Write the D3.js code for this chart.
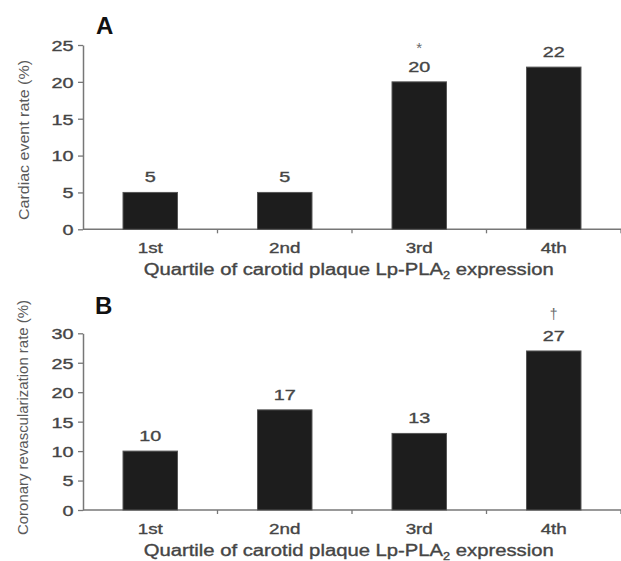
<!DOCTYPE html>
<html><head><meta charset="utf-8">
<script src="https://cdn.jsdelivr.net/npm/d3@7"></script>
<style>
body{margin:0;background:#fff}
svg text{font-family:"Liberation Sans",Arial,Helvetica,sans-serif}
</style>
</head><body>
<svg id="chart" width="621" height="561"></svg>
<script>
// ---- data ----
const categories = ["1st", "2nd", "3rd", "4th"];
const cardiacEventRate = [5, 5, 20, 22];
const cardiacMarks = ["", "", "*", ""];
const revascRate = [10, 17, 13, 27];
const revascMarks = ["", "", "", "†"];
const yTicksA = [0, 5, 10, 15, 20, 25];
const yTicksB = [0, 5, 10, 15, 20, 25, 30];
const panelLabels = ["A", "B"];
const yTitles = ["Cardiac event rate (%)", "Coronary revascularization rate (%)"];
const xTitleMain = "Quartile of carotid plaque Lp-PLA";
const xTitleSub = "2";
const xTitleEnd = " expression";

// ---- style / layout ----
const TEXT = "#454545", AXIS = "#777";
const svg = d3.select("#chart");
const SX = 1.32; // horizontal stretch of the reference lettering

function stretch(sel, f) {
  sel.each(function () {
    const n = this.getComputedTextLength();
    d3.select(this).attr("textLength", n * f).attr("lengthAdjust", "spacingAndGlyphs");
  });
}
function heavy(sel, c) {
  sel.attr("stroke", c || TEXT).attr("stroke-width", 0.35);
}

const panels = [
  { values: cardiacEventRate, marks: cardiacMarks, ticks: yTicksA, yRange: [229.3, 45], label: panelLabels[0],
    labelPos: [96, 34], yTitle: yTitles[0], yTitleLen: 160, yTitleX: 28.5, yTitleY: 140 },
  { values: revascRate, marks: revascMarks, ticks: yTicksB, yRange: [510, 333.3], label: panelLabels[1],
    labelPos: [95, 313.5], yTitle: yTitles[1], yTitleLen: 235, yTitleX: 28, yTitleY: 417.5 }
];

const x = d3.scaleBand().domain(categories).range([83, 621]).padding(0);
const barFrac = 0.405;
const markOffset = { "*": 19, "†": 22 };
const markSize = { "*": "15px", "†": "14px" };

panels.forEach(p => {
  const y = d3.scaleLinear().domain([0, d3.max(p.ticks)]).range(p.yRange);
  const g = svg.append("g");

  // y axis
  const ya = g.append("g").attr("transform", "translate(83,0)")
    .call(d3.axisLeft(y).tickValues(p.ticks).tickSize(5).tickSizeOuter(0).tickPadding(4.5));
  ya.select(".domain").attr("stroke", AXIS).attr("stroke-width", 1.5);
  ya.selectAll(".tick line").attr("stroke", AXIS).attr("stroke-width", 1.3);
  const yt = ya.selectAll(".tick text").attr("fill", TEXT).style("font-size", "15px").attr("dy", "0.36em");
  heavy(yt);
  stretch(yt, SX);

  // x axis line + boundary ticks
  const y0 = y(0);
  g.append("line").attr("x1", 83).attr("x2", 621).attr("y1", y0).attr("y2", y0)
    .attr("stroke", AXIS).attr("stroke-width", 1.5);
  g.selectAll(".bt").data(categories).join("line")
    .attr("x1", d => x(d) + x.bandwidth()).attr("x2", d => x(d) + x.bandwidth())
    .attr("y1", y0).attr("y2", y0 + 4).attr("stroke", AXIS).attr("stroke-width", 1.3);

  // category labels
  const cl = g.selectAll(".cl").data(categories).join("text")
    .attr("x", d => x(d) + x.bandwidth() / 2).attr("y", y0 + 24)
    .attr("text-anchor", "middle").attr("fill", TEXT).style("font-size", "15px").text(d => d);
  heavy(cl);
  stretch(cl, SX * 0.95);

  // bars
  const bw = x.bandwidth() * barFrac;
  g.selectAll(".bar").data(p.values).join("rect")
    .attr("x", (d, i) => x(categories[i]) + (x.bandwidth() - bw) / 2)
    .attr("y", d => y(d)).attr("width", bw).attr("height", d => y0 - y(d))
    .attr("fill", "#1d1d1d").attr("stroke", "#555").attr("stroke-width", 1);

  // value labels
  const vl = g.selectAll(".vl").data(p.values).join("text")
    .attr("x", (d, i) => x(categories[i]) + x.bandwidth() / 2).attr("y", d => y(d) - 10)
    .attr("text-anchor", "middle").attr("fill", TEXT).style("font-size", "15px").text(d => d);
  heavy(vl);
  stretch(vl, SX);

  // significance marks
  g.selectAll(".mk").data(p.marks.map((m, i) => ({ m, v: p.values[i], c: categories[i] })).filter(d => d.m))
    .join("text")
    .attr("x", d => x(d.c) + x.bandwidth() / 2).attr("y", d => y(d.v) - 10 - markOffset[d.m])
    .attr("text-anchor", "middle").attr("fill", "#6a6a6a").style("font-size", d => markSize[d.m]).text(d => d.m);

  // x title
  const xt = g.append("text").attr("x", 348.7).attr("y", y0 + 45.5).attr("text-anchor", "middle")
    .attr("fill", TEXT).style("font-size", "16px");
  xt.append("tspan").text(xTitleMain);
  xt.append("tspan").text(xTitleSub).style("font-size", "10px").attr("dy", 4);
  xt.append("tspan").text(xTitleEnd).attr("dy", -4);
  xt.attr("textLength", 410).attr("lengthAdjust", "spacingAndGlyphs");
  heavy(xt);

  // y title
  g.append("text").attr("transform", `translate(${p.yTitleX},${p.yTitleY}) rotate(-90)`)
    .attr("text-anchor", "middle").attr("fill", "#5a5a5a").style("font-size", "15px")
    .attr("textLength", p.yTitleLen).attr("lengthAdjust", "spacingAndGlyphs").text(p.yTitle);

  // panel label
  g.append("text").attr("x", p.labelPos[0]).attr("y", p.labelPos[1]).attr("fill", "#111")
    .style("font-size", "24px").style("font-weight", "bold").text(p.label);
});
</script>
</body></html>
